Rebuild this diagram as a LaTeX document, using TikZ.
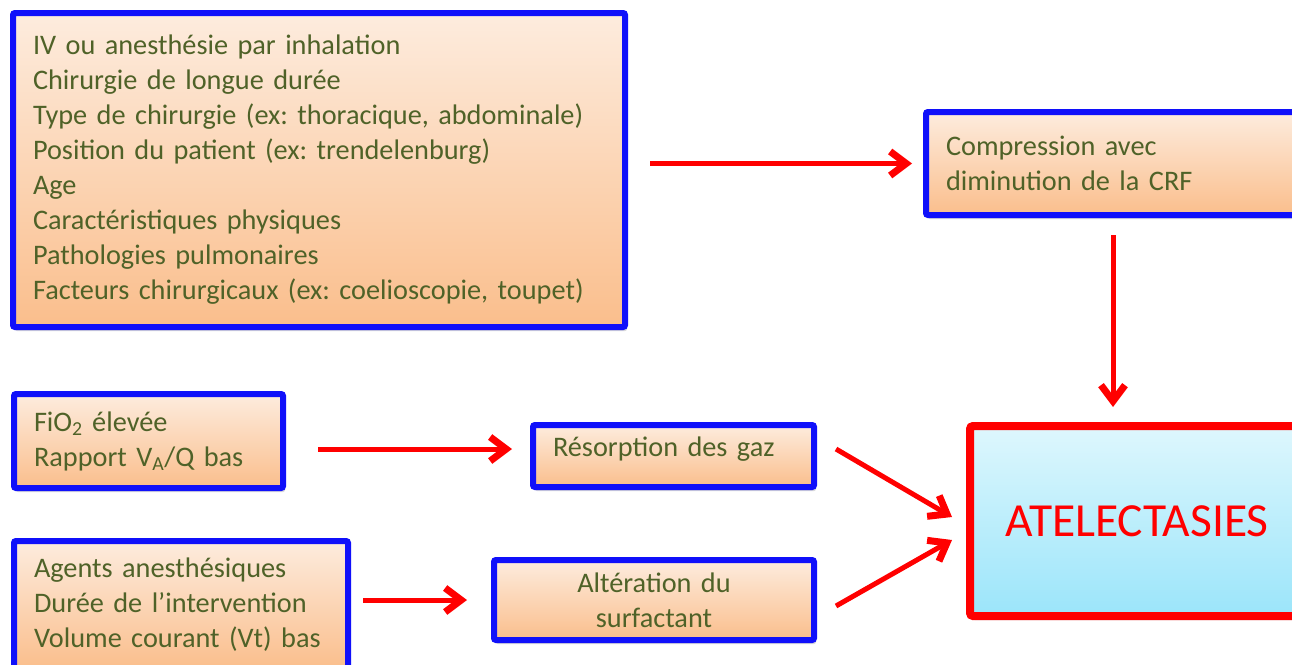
\documentclass[tikz,border=0pt]{standalone}
\usepackage{fontspec}
\setmainfont{Carlito}
\usetikzlibrary{arrows.meta,shadows}
\definecolor{boxblue}{RGB}{16,16,250}
\definecolor{olivetext}{RGB}{79,98,40}
\definecolor{peachtop}{RGB}{253,236,222}
\definecolor{peachbot}{RGB}{250,190,140}
\definecolor{cyantop}{RGB}{222,247,253}
\definecolor{cyanbot}{RGB}{155,229,250}
\frenchspacing
\begin{document}
\begin{tikzpicture}[x=1pt,y=-1pt,
			cause/.style={
				draw=boxblue,
				line width=6pt,
				rounded corners=2pt,
				top color=peachtop,
				bottom color=peachbot,
				drop shadow={shadow xshift=2pt, shadow yshift=-4pt, opacity=.3},
				text=olivetext,
				font=\fontsize{28.3}{35}\selectfont,
				anchor=north west,
				outer sep=0pt,
				inner xsep=20pt,
				inner ysep=0pt,
				align=left},
			effet/.style={
				draw=red,
				line width=8pt,
				rounded corners=3pt,
				top color=cyantop,
				bottom color=cyanbot,
				drop shadow={shadow xshift=2pt, shadow yshift=-4pt, opacity=.3},
				text=red,
				font=\fontsize{47.5}{50}\selectfont,
				anchor=north west,
				outer sep=0pt},
			fleche/.style={
				draw=red,
				line width=5pt,
				-{Straight Barb[length=16pt,width=24pt,line width=7pt]}}]
			\useasboundingbox (0,0) rectangle (1292,664);
			% boxes
			\node (facteurs) at (13,13) [cause, text width=572pt, minimum height=314pt]
				{IV ou anesthésie par inhalation\\
				Chirurgie de longue durée\\
				Type de chirurgie (ex: thoracique, abdominale)\\
				Position du patient (ex: trendelenburg)\\
				Age\\
				Caractéristiques physiques\\
				Pathologies pulmonaires\\
				Facteurs chirurgicaux (ex: coelioscopie, toupet)};
			\node (crf) at (926,112) [cause, text width=334pt, minimum height=103pt]
				{Compression avec\\ diminution de la CRF};
			\node (fio) at (14,394) [cause, text width=229pt, minimum height=94pt]
				{FiO\textsubscript{2} élevée\\ Rapport V\textsubscript{A}/Q bas};
			\node (resorp) at (533,425) [cause, text width=241pt, minimum height=62pt,
				text height=17pt, text depth=17pt]
				{Résorption\ des gaz};
			\node (agents) at (14,541) [cause, text width=294pt, minimum height=128pt]
				{Agents anesthésiques\\ Durée de l’intervention\\ Volume courant (Vt) bas};
			\node (alter) at (494,560) [cause, text width=280pt, minimum height=80pt, align=center]
				{Altération\ du\\ surfactant};
			\node (atel) at (970,426) [effet, minimum width=334pt, minimum height=190pt]
				{ATELECTASIES};
			% arrows
			\draw[fleche, shorten <=25pt, shorten >=14pt] (facteurs.east |- crf.west) -- (crf.west);
			\draw[fleche, shorten <=20pt, shorten >=19pt] (crf.south) -- (crf.south |- atel.north);
			\draw[fleche, shorten <=35pt, shorten >=21pt] ([yshift=-8pt]fio.east) -- ([yshift=-8pt]fio.east -| resorp.west);
			\draw[fleche, shorten <=15pt, shorten >=27pt] (agents.east |- alter.west) -- (alter.west);
			\draw[fleche] ([xshift=22pt,yshift=7pt]resorp.east) -- ([xshift=-18pt,yshift=4pt]atel.west);
			\draw[fleche] ([xshift=22pt,yshift=-6pt]alter.east) -- ([xshift=-18pt,yshift=-19pt]atel.west);
			\end{tikzpicture}
\end{document}
